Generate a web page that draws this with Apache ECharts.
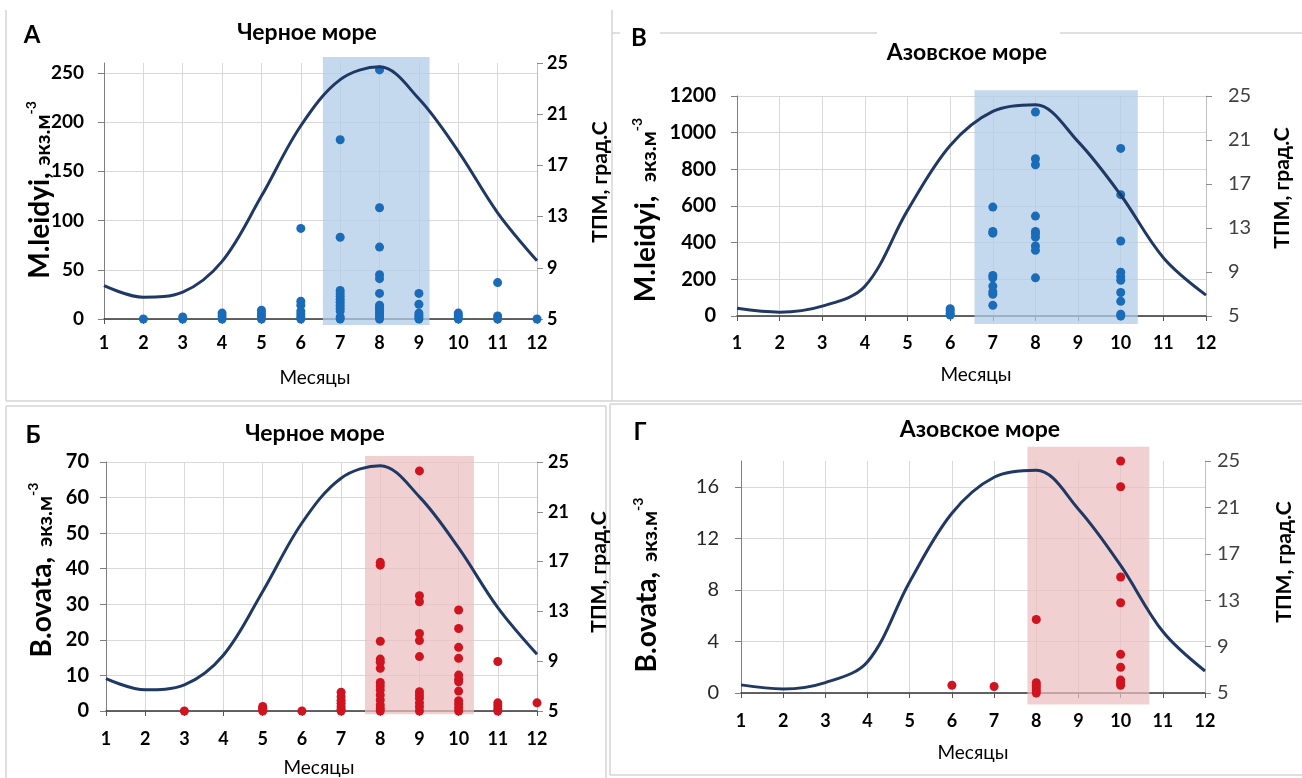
<!DOCTYPE html>
<html><head><meta charset="utf-8">
<script src="https://cdn.jsdelivr.net/npm/echarts@6/dist/echarts.min.js"></script>
<style>html,body{margin:0;padding:0;background:#fff}#c{width:1302px;height:778px}</style>
</head><body><div id="c"></div><script>
// ---- data ----
const months = [1,2,3,4,5,6,7,8,9,10,11,12];
const tempBlackSea = [7.6, 6.7, 7.1, 9.5, 14.6, 20.1, 23.7, 24.7, 22.2, 18.1, 13.3, 9.55];
const tempAzov     = [5.7, 5.35, 5.9, 7.7, 14.6, 20.5, 23.6, 24.2, 20.85, 16.0, 10.3, 6.9];

const mleidyiBlackSea = [
  [2,0],
  [3,0],[3,2],
  [4,0],[4,3],[4,6],
  [5,0],[5,3],[5,6],[5,9],
  [6,92],[6,18],[6,14],[6,8],[6,5],[6,2],[6,0],
  [7,182],[7,83],[7,29],[7,26],[7,23],[7,20],[7,17],[7,14],[7,11],[7,8],[7,2],[7,0],
  [8,253],[8,113],[8,73],[8,45],[8,41],[8,26],[8,14],[8,12],[8,10],[8,8],[8,6],[8,4],[8,2],[8,0],
  [9,26],[9,15],[9,6],[9,4],[9,2],[9,0],
  [10,6],[10,4],[10,2],[10,0],
  [11,37],[11,3],[11,0],
  [12,0]
];
const mleidyiAzov = [
  [6,40],[6,28],[6,15],[6,5],
  [7,594],[7,461],[7,452],[7,221],[7,208],[7,163],[7,132],[7,118],[7,58],
  [8,1113],[8,858],[8,825],[8,545],[8,461],[8,448],[8,430],[8,382],[8,358],[8,208],
  [10,914],[10,662],[10,409],[10,239],[10,215],[10,195],[10,128],[10,80],[10,10],[10,0]
];
const bovataBlackSea = [
  [3,0],
  [5,1.3],[5,0.8],[5,0.3],[5,0],
  [6,0],
  [7,5.3],[7,4],[7,3],[7,2.2],[7,1.3],[7,0.5],[7,0],
  [8,41.8],[8,41],[8,19.6],[8,14.6],[8,13.7],[8,12],[8,8],[8,7],[8,5.9],[8,4.5],[8,3.1],[8,1.7],[8,0.7],[8,0],
  [9,67.5],[9,32.4],[9,30.7],[9,21.8],[9,19.8],[9,15.3],[9,5.4],[9,4.5],[9,3.6],[9,2.3],[9,1.2],[9,0],
  [10,28.4],[10,23.2],[10,17.9],[10,14.8],[10,10.1],[10,8.9],[10,8.2],[10,5.6],[10,2.9],[10,2.0],[10,0.9],[10,0],
  [11,13.9],[11,2.3],[11,1.5],[11,0.6],[11,0],
  [12,2.3]
];
const bovataAzov = [
  [6,0.6],
  [7,0.5],
  [8,5.7],[8,0.8],[8,0.6],[8,0.4],[8,0.2],[8,0],
  [10,18],[10,16],[10,9],[10,7],[10,3],[10,2],[10,1],[10,0.8],[10,0.6]
];
// highlighted season bands: [fromMonth, toMonth, fromValue, toValue]
const bandA  = [6.56, 9.27, -6, 266];
const bandB  = [6.57, 10.4, -43, 1231];
const bandBo = [7.61, 10.39, -0.9, 71.7];
const bandG  = [7.79, 10.68, -0.9, 19.1];

const titles = ['Черное море', 'Азовское море', 'Черное море', 'Азовское море'];
const letters = ['А', 'В', 'Б', 'Г'];

// ---- chart ----
const FF = 'Lato, "Noto Sans", sans-serif';
const BLUE = '#1a6bb8', RED = '#cf1420', NAVY = '#1f3864';
const grids = [
  {left:104, top:63,  width:433, height:256},
  {left:737, top:96,  width:469, height:220},
  {left:106, top:462, width:431, height:249},
  {left:741, top:461, width:464, height:232}
];
const xMargins = [15, 18, 19, 19];
const plain = v => String(v);
const xAxes = grids.map((g,i)=>({
  type:'value', gridIndex:i, min:1, max:12, interval:1,
  axisLine:{show:true, onZero:false, lineStyle:{color:'#333', width:1.5}},
  axisTick:{show:true, length:5, lineStyle:{color:'#555'}},
  axisLabel:{fontFamily:FF, fontWeight:'bold', fontSize:18, color:'#000', margin:xMargins[i], formatter:plain},
  splitLine:{show:true, lineStyle:{color:'#d9d9d9', width:1}}
}));
function leftAxis(gi, max, interval, opts){
  return {
    type:'value', gridIndex:gi, position:'left', min:0, max:max, interval:interval,
    axisLine:{show:true, lineStyle:{color:'#7f7f7f', width:1}},
    axisTick:{show:true, length:6, lineStyle:{color:'#7f7f7f'}},
    axisLabel:{fontFamily:FF, fontWeight:opts.bold?'bold':'normal', fontSize:opts.size, color:opts.color||'#000',
      margin:opts.margin, showMaxLabel: opts.showMax, formatter:plain},
    splitLine:{show:true, showMaxLine: opts.showMax, lineStyle:{color:'#d9d9d9', width:1}}
  };
}
function rightAxis(gi, opts){
  return {
    type:'value', gridIndex:gi, position:'right', min:5, max:25, interval:4,
    axisLine:{show:true, lineStyle:{color:'#bfbfbf', width:1}},
    axisTick:{show:true, length:6, lineStyle:{color:'#8c8c8c'}},
    axisLabel:{fontFamily:FF, fontWeight:opts.bold?'bold':'normal', fontSize:opts.size, color:opts.color||'#000',
      margin:opts.margin, formatter:plain},
    splitLine:{show:false}
  };
}
const yAxes = [
  leftAxis(0, 260, 50, {bold:true, size:19, margin:20, showMax:false}),
  rightAxis(0, {bold:true, size:18, margin:10}),
  leftAxis(1, 1200, 200, {bold:true, size:20, margin:21, showMax:true}),
  rightAxis(1, {bold:false, size:20, color:'#404040', margin:22}),
  leftAxis(2, 70, 10, {bold:true, size:20, margin:17, showMax:true}),
  rightAxis(2, {bold:true, size:18, margin:11}),
  leftAxis(3, 18, 4, {bold:false, size:20, color:'#262626', margin:22, showMax:false}),
  rightAxis(3, {bold:false, size:20, color:'#404040', margin:12})
];

function bandSeries(gi, band, color){
  return {
    type:'custom', xAxisIndex:gi, yAxisIndex:gi*2, silent:true, clip:false, z:1,
    data:[band],
    renderItem:(params, api)=>{
      const p0 = api.coord([api.value(0), api.value(3)]);
      const p1 = api.coord([api.value(1), api.value(2)]);
      return {type:'rect', shape:{x:p0[0], y:p0[1], width:p1[0]-p0[0], height:p1[1]-p0[1]}, style:{fill:color}};
    }
  };
}
function scatterSeries(gi, data, color){
  return {type:'scatter', xAxisIndex:gi, yAxisIndex:gi*2, data:data, symbolSize:9, z:2,
    itemStyle:{color:color, opacity:1}, clip:false};
}
function tempSeries(gi, temps){
  return {type:'line', xAxisIndex:gi, yAxisIndex:gi*2+1, data:months.map((m,i)=>[m, temps[i]]),
    smooth:0.35, showSymbol:false, z:3, lineStyle:{color:NAVY, width:3}};
}
const BAND_BLUE = 'rgba(178,204,232,0.75)';
const BAND_RED = 'rgba(234,190,190,0.72)';
const series = [
  bandSeries(0, bandA, BAND_BLUE), scatterSeries(0, mleidyiBlackSea, BLUE), tempSeries(0, tempBlackSea),
  bandSeries(1, bandB, BAND_BLUE), scatterSeries(1, mleidyiAzov, BLUE), tempSeries(1, tempAzov),
  bandSeries(2, bandBo, BAND_RED), scatterSeries(2, bovataBlackSea, RED), tempSeries(2, tempBlackSea),
  bandSeries(3, bandG, BAND_RED), scatterSeries(3, bovataAzov, RED), tempSeries(3, tempAzov)
];

// ---- texts & frames ----
function txt(x, y, text, font, rot, extra){
  return {type:'text', x:x, y:y, rotation:rot||0, silent:true, z:10,
    style:Object.assign({text:text, font:font, fill:'#000', align:'center', verticalAlign:'middle',
      textAlign:'center', textVerticalAlign:'middle'}, extra||{})};
}
const richName = {
  a:{fontFamily:FF, fontWeight:'bold', fontSize:28, fill:'#000', color:'#000', verticalAlign:'bottom', lineHeight:30},
  b:{fontFamily:FF, fontWeight:'bold', fontSize:21, fill:'#000', color:'#000', verticalAlign:'bottom', lineHeight:30},
  c:{fontFamily:FF, fontWeight:'bold', fontSize:14, fill:'#000', color:'#000', verticalAlign:'top', lineHeight:30}
};
const titleFont = 'bold 23px ' + FF;
const letterFont = 'bold 24px ' + FF;
const monthFont = 'normal 19px ' + FF;
const tpmFont = 'bold 21px ' + FF;
function frameLine(x1,y1,x2,y2){
  return {type:'line', shape:{x1:x1,y1:y1,x2:x2,y2:y2}, style:{stroke:'#d4d4d4', lineWidth:1.5}, silent:true};
}
const graphics = [
  // frames
  frameLine(6,10,6,401), frameLine(6,401,1302,401), frameLine(612,10,612,401),
  frameLine(612,33,620,33), frameLine(660,33,877,33), frameLine(1060,33,1302,33),
  frameLine(6,406,606,406), frameLine(6,406,6,778), frameLine(606,406,606,778),
  frameLine(610,404,1302,404), frameLine(610,404,610,775), frameLine(610,775,1302,775),
  // titles
  txt(307, 33, titles[0], titleFont), txt(967, 53, titles[1], titleFont),
  txt(315, 434, titles[2], titleFont), txt(980, 430, titles[3], titleFont),
  // letters
  txt(32, 35, letters[0], letterFont), txt(639, 38, letters[1], letterFont),
  txt(33, 435, letters[2], letterFont), txt(640, 432, letters[3], letterFont),
  // x names
  txt(315, 378, 'Месяцы', monthFont), txt(976, 375, 'Месяцы', monthFont),
  txt(319, 768, 'Месяцы', monthFont), txt(973, 753, 'Месяцы', monthFont),
  // right names
  txt(600, 182, 'ТПМ, град.С', tpmFont, Math.PI/2), txt(1282, 188, 'ТПМ, град.С', tpmFont, Math.PI/2),
  txt(599, 572, 'ТПМ, град.С', tpmFont, Math.PI/2), txt(1284, 562, 'ТПМ, град.С', tpmFont, Math.PI/2),
  // left names
  txt(39, 190, '{a|M.leidyi,}  {b|экз.м}{c|-3}', null, Math.PI/2, {rich:richName, font:undefined}),
  txt(645, 210, '{a|M.leidyi,}    {b|экз.м}{c|-3}', null, Math.PI/2, {rich:richName, font:undefined}),
  txt(41, 570, '{a|B.ovata,}   {b|экз.м}{c|-3}', null, Math.PI/2, {rich:richName, font:undefined}),
  txt(646, 585, '{a|B.ovata,}   {b|экз.м}{c|-3}', null, Math.PI/2, {rich:richName, font:undefined})
];

const chart = echarts.init(document.getElementById('c'), null, {renderer:'canvas'});
chart.setOption({
  animation:false,
  backgroundColor:'#fff',
  grid:grids,
  xAxis:xAxes,
  yAxis:yAxes,
  series:series,
  graphic:{elements:graphics}
});
</script></body></html>
